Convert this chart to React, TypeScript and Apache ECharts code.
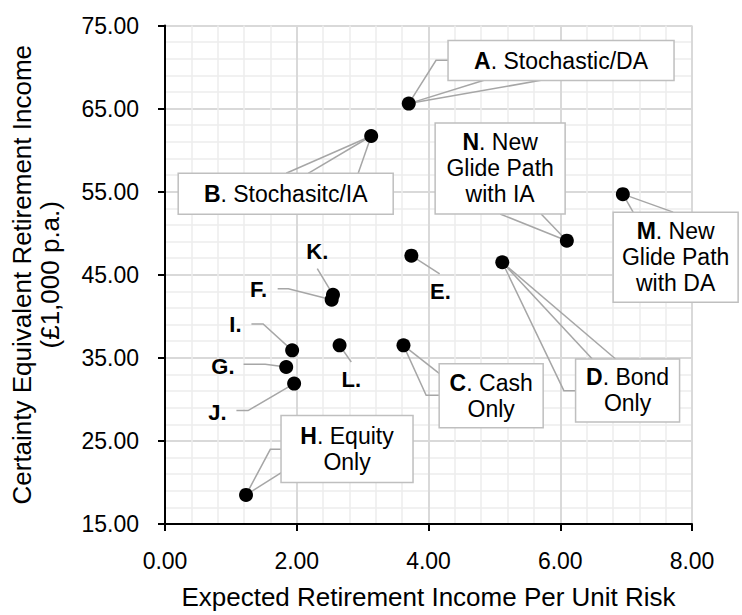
import React, { useEffect, useRef } from 'react';
import * as echarts from 'echarts';

// ---- data ----
const labels = ['A', 'B', 'C', 'D', 'E', 'F', 'G', 'H', 'I', 'J', 'K', 'L', 'M', 'N'];
const descriptions = [
  '. Stochastic/DA',
  '. Stochasitc/IA',
  '. Cash\nOnly',
  '. Bond\nOnly',
  '',
  '',
  '',
  '. Equity\nOnly',
  '',
  '',
  '',
  '',
  '. New\nGlide Path\nwith DA',
  '. New\nGlide Path\nwith IA',
];
const xValues = [3.70, 3.13, 3.62, 5.12, 3.74, 2.53, 1.84, 1.23, 1.93, 1.96, 2.55, 2.65, 6.95, 6.10];
const yValues = [65.6, 61.7, 36.5, 46.5, 47.3, 42.0, 33.9, 18.5, 35.9, 31.9, 42.6, 36.5, 54.7, 49.1];
const xTitle = 'Expected Retirement Income Per Unit Risk';
const yTitle = 'Certainty Equivalent Retirement Income\n(£1,000 p.a.)';
const Y_BASE = 15; // y axis starts at 15.00

// ---- label layout (pixel offsets relative to each point) ----
type Layout = { box?: number[]; text?: number[]; lines: number[][][] };
const layouts: Layout[] = [
  { box: [39.3, -63, 226, 40], lines: [[[75.3, -23.3]], [[132.3, -23.3]], [[27.3, -43.3], [39.3, -43.3]]] }, // A
  { box: [-193, 37.3, 215, 41], lines: [[[-85, 37.3]], [[-63, 37.3]], [[-13, 37.3]]] }, // B
  { box: [35.7, 18.3, 104, 64], lines: [[[36, 28.3]], [[22.7, 50], [36, 50]]] }, // C
  { box: [73.3, 96.7, 104, 63], lines: [[[90, 96.7]], [[113.3, 96.7]], [[61.6, 128.4], [73.3, 128.4]]] }, // D
  { text: [29, 36.3], lines: [[[28.3, 18.3]]] }, // E
  { text: [-73, -10], lines: [[[-43.3, -11], [-54, -11]]] }, // F
  { text: [-63.3, -0.8], lines: [[[-21, -2.6], [-42.6, -2.6]]] }, // G
  { box: [35, -79.3, 132, 67], lines: [[[24.3, -45.6], [35.3, -45.6]], [[35.3, -22.3]]] }, // H
  { text: [-56.7, -25.7], lines: [[[-29, -26.4], [-40.7, -26.4]]] }, // I
  { text: [-76.7, 29.3], lines: [[[-46, 27], [-57.7, 27]]] }, // J
  { text: [-15.7, -43], lines: [[[-15.7, -26]]] }, // K
  { text: [11.7, 34.3], lines: [[[11.7, 16.6]]] }, // L
  { box: [-9.7, 18, 125, 90], lines: [[[10.3, 18]], [[50.3, 18]]] }, // M
  { box: [-131.7, -117.7, 130, 91], lines: [[[-66.7, -26.7]], [[-25.7, -26.7]]] }, // N
];

const FONT = '"Liberation Sans", Arial, sans-serif';

export default function App() {
  const ref = useRef<HTMLDivElement>(null);

  useEffect(() => {
    if (!ref.current) return;
    const chart = echarts.init(ref.current, undefined, { renderer: 'svg' });

    const points = xValues.map((x, i) => [x, yValues[i] - Y_BASE]);

    const renderItem = (params: any, api: any) => {
      const i = params.dataIndex;
      const p = api.coord([api.value(0), api.value(1)]);
      const lay = layouts[i];
      const children: any[] = [];
      lay.lines.forEach((path) => {
        children.push({
          type: 'polyline',
          shape: { points: [p, ...path.map(([dx, dy]) => [p[0] + dx, p[1] + dy])] },
          style: { stroke: '#a6a6a6', lineWidth: 1.5, fill: null },
        });
      });
      if (lay.box) {
        const [dx, dy, w, h] = lay.box;
        children.push({
          type: 'rect',
          shape: { x: p[0] + dx, y: p[1] + dy, width: w, height: h },
          style: { fill: '#ffffff', stroke: '#bfbfbf', lineWidth: 1.5 },
        });
        children.push({
          type: 'text',
          x: p[0] + dx + w / 2,
          y: p[1] + dy + h / 2,
          style: {
            text: '{b|' + labels[i] + '}' + descriptions[i],
            fill: '#000',
            fontSize: 23,
            fontFamily: FONT,
            lineHeight: 26,
            align: 'center',
            verticalAlign: 'middle',
            rich: {
              b: { fontSize: 23, fontFamily: FONT, fontWeight: 'bold', lineHeight: 26, fill: '#000' },
            },
          },
        });
      } else if (lay.text) {
        children.push({
          type: 'text',
          x: p[0] + lay.text[0],
          y: p[1] + lay.text[1],
          style: {
            text: labels[i] + '.',
            fill: '#000',
            fontSize: 22,
            fontWeight: 'bold',
            fontFamily: FONT,
            align: 'center',
            verticalAlign: 'middle',
          },
        });
      }
      return { type: 'group', children };
    };

    chart.setOption({
      animation: false,
      grid: { left: 163, top: 25.5, width: 529, height: 501, containLabel: false },
      xAxis: {
        type: 'value',
        min: 0,
        max: 8,
        interval: 2,
        name: xTitle,
        nameLocation: 'middle',
        nameGap: 60,
        nameTextStyle: { fontFamily: FONT, fontSize: 26, color: '#000' },
        axisLine: { show: true, lineStyle: { color: '#000', width: 2 } },
        axisTick: { show: true, length: 7, lineStyle: { color: '#000', width: 2 } },
        axisLabel: {
          margin: 25,
          fontFamily: FONT,
          fontSize: 23,
          color: '#000',
          formatter: (v: number) => v.toFixed(2),
        },
        splitLine: { show: true, lineStyle: { color: '#d9d9d9', width: 2 } },
        minorTick: { show: false, splitNumber: 5 },
        minorSplitLine: { show: true, lineStyle: { color: '#ececec', width: 1.5 } },
      },
      yAxis: {
        type: 'value',
        min: 0,
        max: 60,
        interval: 10,
        name: yTitle,
        nameLocation: 'middle',
        nameGap: 101,
        nameTextStyle: { fontFamily: FONT, fontSize: 26, lineHeight: 28, color: '#000' },
        axisLine: { show: true, lineStyle: { color: '#000', width: 2 } },
        axisTick: { show: true, length: 7, lineStyle: { color: '#000', width: 2 } },
        axisLabel: {
          margin: 26,
          fontFamily: FONT,
          fontSize: 23,
          color: '#000',
          formatter: (v: number) => (v + Y_BASE).toFixed(2),
        },
        splitLine: { show: true, lineStyle: { color: '#d9d9d9', width: 2 } },
        minorTick: { show: false, splitNumber: 5 },
        minorSplitLine: { show: true, lineStyle: { color: '#ececec', width: 1.5 } },
      },
      series: [
        {
          type: 'custom',
          clip: false,
          renderItem,
          data: points,
          encode: { x: 0, y: 1 },
          z: 3,
          silent: true,
        },
        {
          type: 'scatter',
          data: points,
          symbol: 'circle',
          symbolSize: 14,
          itemStyle: { color: '#000', opacity: 1 },
          z: 5,
          silent: true,
        },
      ],
    });

    return () => chart.dispose();
  }, []);

  return (
    <div
      ref={ref}
      style={{ position: 'absolute', left: 0, top: 0, width: 742, height: 615, background: '#fff' }}
    />
  );
}
